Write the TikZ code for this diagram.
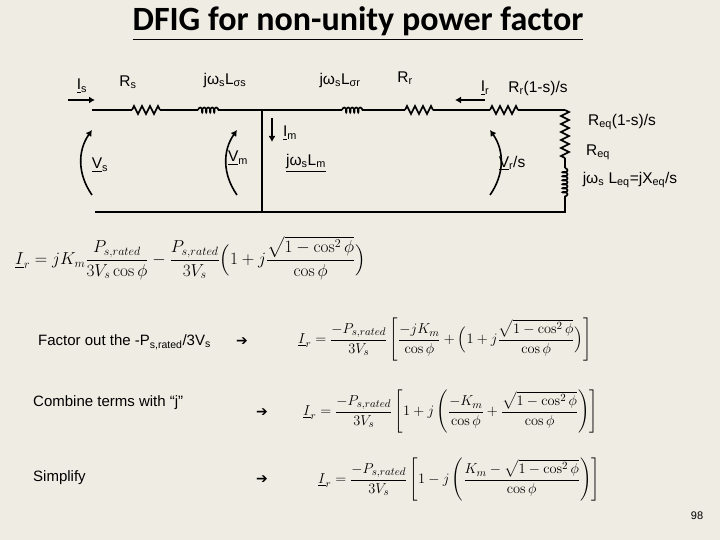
\documentclass[tikz,border=0pt]{standalone}
\usepackage{amsmath}
\usepackage[no-math]{fontspec}
\setmainfont{Liberation Sans}
\newfontfamily\titlefont{Carlito}
\usetikzlibrary{decorations.pathmorphing,arrows.meta}
\definecolor{bg}{HTML}{EEECE3}
\begin{document}
\begin{tikzpicture}[x=1pt,y=-1pt,
  lbl/.style={font=\fontsize{15.5}{17}\selectfont,inner sep=0pt},
  wire/.style={line width=1.6pt},
  zz/.style={wire,decorate,decoration={zigzag,amplitude=4pt,segment length=8pt}},
  coil/.style={wire,decorate,decoration={coil,amplitude=2.5pt,segment length=4pt}},
  eq/.style={font=\fontsize{15}{18}\selectfont,inner sep=0pt},
  txt/.style={font=\fontsize{15}{17}\selectfont,anchor=west,inner sep=0pt},
  arr/.style={-{Latex[length=6pt,width=7pt]},line width=1.6pt}]
\fill[bg] (0,0) rectangle (720,540);
\useasboundingbox (0,0) rectangle (720,540);
\node[font=\titlefont\bfseries\fontsize{34}{36}\selectfont] (title) at (358,24) {\underline{DFIG for non-unity power factor}};
% circuit
\coordinate (a) at (92,110); \coordinate (r1a) at (132,110); \coordinate (r1b) at (160,110);
\coordinate (l1a) at (198,110); \coordinate (l1b) at (222,110); \coordinate (n) at (262,110);
\coordinate (l2a) at (342,110); \coordinate (l2b) at (366,110);
\coordinate (r2a) at (405,110); \coordinate (r2b) at (433,110);
\coordinate (r3a) at (490,110); \coordinate (r3b) at (518,110);
\coordinate (c) at (565,110); \coordinate (v1) at (565,158); \coordinate (v2) at (565,168);
\coordinate (v3) at (565,200); \coordinate (d) at (565,212); \coordinate (nb) at (262,212); \coordinate (b) at (95,212);
\draw[wire] (a)--(r1a); \draw[zz] (r1a)--(r1b); \draw[wire] (r1b)--(l1a); \draw[coil] (l1a)--(l1b);
\draw[wire] (l1b)--(l2a); \draw[coil] (l2a)--(l2b); \draw[wire] (l2b)--(r2a); \draw[zz] (r2a)--(r2b);
\draw[wire] (r2b)--(r3a); \draw[zz] (r3a)--(r3b); \draw[wire] (r3b)--(c);
\draw[zz] (c)--(v1); \draw[wire] (v1)--(v2); \draw[coil] (v2)--(v3); \draw[wire] (v3)--(d)--(b);
\draw[wire] (n)--(nb);
\coordinate (isa) at (68,100); \coordinate (isb) at (95,100); \draw[arr] (isa)--(isb);
\coordinate (ira) at (485,100); \coordinate (irb) at (455,100); \draw[arr] (ira)--(irb);
\coordinate (ima) at (272,118); \coordinate (imb) at (272,142); \draw[arr] (ima)--(imb);
\coordinate (vsa) at (92,195); \coordinate (vsb) at (92,130); \draw[arr] (vsa) to[bend left=35] (vsb);
\coordinate (vma) at (237,195); \coordinate (vmb) at (237,130); \draw[arr] (vma) to[bend left=35] (vmb);
\coordinate (vra) at (490,195); \coordinate (vrb) at (490,130); \draw[arr] (vra) to[bend right=35] (vrb);
\node[lbl] (Is) at (82,86) {\underline{I}\textsubscript{s}};
\node[lbl] (Rs) at (128,82) {R\textsubscript{s}};
\node[lbl] (Ls) at (225,80) {jω\textsubscript{s}L\textsubscript{σs}};
\node[lbl] (Lr) at (340,80) {jω\textsubscript{s}L\textsubscript{σr}};
\node[lbl] (Rr) at (405,78) {R\textsubscript{r}};
\node[lbl] (Ir) at (485,88) {\underline{I}\textsubscript{r}};
\node[lbl] (Rr1) at (538,88) {R\textsubscript{r}(1-s)/s};
\node[lbl] (Req1) at (622,122) {R\textsubscript{eq}(1-s)/s};
\node[lbl] (Req) at (598,152) {R\textsubscript{eq}};
\node[lbl] (Leq) at (630,180) {jω\textsubscript{s} L\textsubscript{eq}=jX\textsubscript{eq}/s};
\node[lbl] (Vs) at (100,165) {\underline{V}\textsubscript{s}};
\node[lbl] (Vm) at (238,158) {\underline{V}\textsubscript{m}};
\node[lbl] (Im) at (290,133) {\underline{I}\textsubscript{m}};
\node[lbl] (Lm) at (306,163) {\underline{jω\textsubscript{s}L\textsubscript{m}}};
\node[lbl] (Vr) at (512,163) {\underline{V}\textsubscript{r}/s};
% equations
\node[eq,anchor=west,font=\fontsize{18.5}{22}\selectfont] (e1) at (15,258) {$\displaystyle \underline{I}_r=jK_m\frac{P_{s,rated}}{3V_s\cos\phi}-\frac{P_{s,rated}}{3V_s}\Bigl(1+j\frac{\sqrt{1-\cos^2\phi}}{\cos\phi}\Bigr)$};
\node[txt] (t1) at (38,342) {Factor out the -P\textsubscript{s,rated}/3V\textsubscript{s}};
\node[txt] (t2) at (33,403) {Combine terms with “j”};
\node[txt] (t3) at (33,478) {Simplify};
\node[font=\fontsize{14}{16}\selectfont\fontspec{DejaVu Sans}] (a1) at (242,342) {➔};
\node[font=\fontsize{14}{16}\selectfont\fontspec{DejaVu Sans}] (a2) at (262,413) {➔};
\node[font=\fontsize{14}{16}\selectfont\fontspec{DejaVu Sans}] (a3) at (262,480) {➔};
\node[eq,anchor=west] (e2) at (298,340) {$\displaystyle \underline{I}_r=\frac{-P_{s,rated}}{3V_s}\left[\frac{-jK_m}{\cos\phi}+\Bigl(1+j\frac{\sqrt{1-\cos^2\phi}}{\cos\phi}\Bigr)\right]$};
\node[eq,anchor=west] (e3) at (303,412) {$\displaystyle \underline{I}_r=\frac{-P_{s,rated}}{3V_s}\left[1+j\left(\frac{-K_m}{\cos\phi}+\frac{\sqrt{1-\cos^2\phi}}{\cos\phi}\right)\right]$};
\node[eq,anchor=west] (e4) at (318,480) {$\displaystyle \underline{I}_r=\frac{-P_{s,rated}}{3V_s}\left[1-j\left(\frac{K_m-\sqrt{1-\cos^2\phi}}{\cos\phi}\right)\right]$};
\node[font=\fontsize{11}{13}\selectfont] (pg) at (697,516) {98};
\end{tikzpicture}
\end{document}
